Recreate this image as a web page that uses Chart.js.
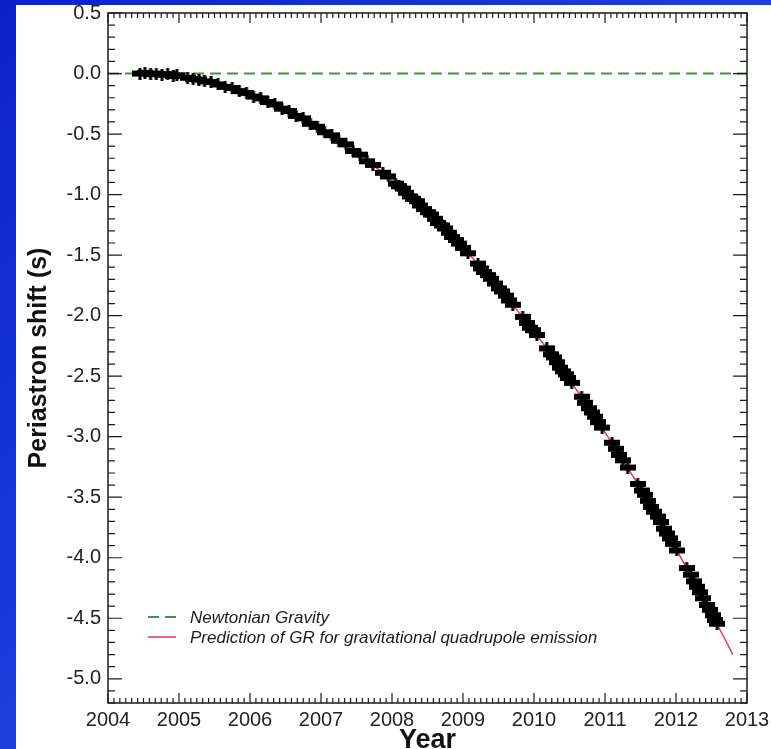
<!DOCTYPE html>
<html>
<head>
<meta charset="utf-8">
<script src="https://cdn.jsdelivr.net/npm/chart.js@4.4.1/dist/chart.umd.min.js"></script>
<style>
  html, body { margin: 0; padding: 0; }
  body {
    width: 771px; height: 749px; overflow: hidden; position: relative;
    background: linear-gradient(to bottom right, #0c22c9, #2b5cf2);
  }
  #panel { position: absolute; left: 16px; top: 5px; width: 755px; height: 744px; background: #fff; }
</style>
</head>
<body>
<div id="panel"><canvas id="grafico" width="755" height="744"></canvas></div>
<script>
// Medidas (año, desplazamiento del periastro en s)
const anios = [
  2004.45, 2004.52, 2004.60, 2004.68, 2004.76, 2004.84, 2004.92, 2004.97,
  2005.12, 2005.20, 2005.28, 2005.36, 2005.45, 2005.55, 2005.65, 2005.75, 2005.85, 2005.95,
  2006.05, 2006.15, 2006.25, 2006.35, 2006.45, 2006.55, 2006.65, 2006.75, 2006.85, 2006.95,
  2007.05, 2007.15, 2007.25, 2007.35, 2007.45, 2007.55, 2007.65, 2007.73, 2007.87, 2007.95,
  2008.05, 2008.10, 2008.15, 2008.20, 2008.25, 2008.30, 2008.35, 2008.40, 2008.45, 2008.50,
  2008.55, 2008.60, 2008.65, 2008.70, 2008.75, 2008.80, 2008.85, 2008.90, 2008.95, 2009.00,
  2009.07, 2009.21, 2009.26, 2009.30, 2009.35, 2009.40, 2009.45, 2009.50, 2009.55, 2009.60,
  2009.645, 2009.70, 2009.84, 2009.90, 2009.95, 2009.99, 2010.04,
  2010.18, 2010.235, 2010.28, 2010.325, 2010.37, 2010.41, 2010.45, 2010.485, 2010.53,
  2010.67, 2010.725, 2010.77, 2010.815, 2010.86, 2010.905, 2010.96,
  2011.10, 2011.155, 2011.20, 2011.25, 2011.32,
  2011.46, 2011.515, 2011.56, 2011.605, 2011.65, 2011.695, 2011.74, 2011.785, 2011.83,
  2011.875, 2011.92, 2011.96, 2012.01,
  2012.15, 2012.205, 2012.25, 2012.295, 2012.34, 2012.385, 2012.43, 2012.475, 2012.52,
  2012.55, 2012.58
];
const desplazamiento = [
  0.00, 0.005, -0.005, 0.00, -0.01, -0.005, -0.02, -0.015,
  -0.035, -0.045, -0.05, -0.065, -0.07, -0.09, -0.11, -0.12, -0.145, -0.16,
  -0.19, -0.205, -0.235, -0.255, -0.29, -0.31, -0.35, -0.37, -0.415, -0.44,
  -0.485, -0.51, -0.555, -0.585, -0.64, -0.67, -0.725, -0.755, -0.82, -0.85,
  -0.91, -0.93, -0.95, -0.985, -1.015, -1.035, -1.055, -1.09, -1.12, -1.145,
  -1.165, -1.20, -1.235, -1.255, -1.28, -1.315, -1.35, -1.375, -1.405, -1.44,
  -1.485, -1.57, -1.61, -1.64, -1.665, -1.695, -1.735, -1.775, -1.80, -1.835,
  -1.875, -1.91, -2.01, -2.06, -2.10, -2.12, -2.16,
  -2.27, -2.32, -2.345, -2.385, -2.43, -2.46, -2.485, -2.515, -2.555,
  -2.67, -2.72, -2.765, -2.80, -2.835, -2.88, -2.925,
  -3.05, -3.10, -3.15, -3.195, -3.255,
  -3.39, -3.445, -3.48, -3.53, -3.58, -3.62, -3.66, -3.705, -3.76,
  -3.80, -3.84, -3.885, -3.94,
  -4.085, -4.14, -4.195, -4.24, -4.285, -4.335, -4.39, -4.43, -4.475,
  -4.515, -4.545
];

// Predicción de la RG (línea roja)
const aniosRG = [
  2004.4, 2004.65, 2004.9, 2005.15, 2005.4, 2005.65, 2005.9, 2006.15, 2006.4, 2006.65,
  2006.9, 2007.15, 2007.4, 2007.65, 2007.9, 2008.15, 2008.4, 2008.65, 2008.9, 2009.15,
  2009.4, 2009.65, 2009.9, 2010.15, 2010.4, 2010.65, 2010.9, 2011.15, 2011.4, 2011.65,
  2011.9, 2012.15, 2012.4, 2012.65, 2012.8
];
const valoresRG = [
  0, -0.004, -0.017, -0.038, -0.068, -0.106, -0.153, -0.208, -0.272, -0.344,
  -0.425, -0.514, -0.612, -0.718, -0.833, -0.956, -1.088, -1.228, -1.377, -1.534,
  -1.700, -1.874, -2.057, -2.248, -2.448, -2.656, -2.873, -3.098, -3.332, -3.574,
  -3.825, -4.084, -4.352, -4.628, -4.798
];

// Gravedad newtoniana (línea verde)
const aniosNewton = [2004, 2013];
const valoresNewton = [0, 0];

// Marcas de los ejes
const ticksX = [2004, 2005, 2006, 2007, 2008, 2009, 2010, 2011, 2012, 2013];
const ticksY = [-5.0, -4.5, -4.0, -3.5, -3.0, -2.5, -2.0, -1.5, -1.0, -0.5, 0.0, 0.5];

const fuente = "'Liberation Sans', Arial, sans-serif";

// Marca de cada medida: barra horizontal con barra de error vertical
function crearMarca() {
  const c = document.createElement('canvas');
  c.width = 16;
  c.height = 12;
  const g = c.getContext('2d');
  g.fillStyle = '#000';
  g.fillRect(0, 3, 16, 6);
  g.fillRect(6.5, 0, 3, 12);
  return c;
}

// Marco, marcas hacia dentro y leyenda
const marcoYLeyenda = {
  id: 'marcoYLeyenda',
  afterDatasetsDraw(chart) {
    const { ctx, chartArea: a, scales: { x, y } } = chart;
    ctx.save();
    ctx.strokeStyle = '#1a1a1a';
    ctx.lineWidth = 1.5;
    ctx.strokeRect(a.left, a.top, a.right - a.left, a.bottom - a.top);

    ctx.lineWidth = 1.2;
    ctx.beginPath();
    for (let i = 0; i <= 108; i++) {
      const px = x.getPixelForValue(2004 + i / 12);
      const largo = i % 12 === 0 ? 10 : 5;
      ctx.moveTo(px, a.bottom); ctx.lineTo(px, a.bottom - largo);
      ctx.moveTo(px, a.top); ctx.lineTo(px, a.top + largo);
    }
    for (let i = -52; i <= 5; i++) {
      const py = y.getPixelForValue(i / 10);
      const largo = i % 5 === 0 ? 14 : 7;
      ctx.moveTo(a.left, py); ctx.lineTo(a.left + largo, py);
      ctx.moveTo(a.right, py); ctx.lineTo(a.right - largo, py);
    }
    ctx.stroke();

    // leyenda
    const filas = [chart.data.datasets[2], chart.data.datasets[1]];
    ctx.font = 'italic 17px ' + fuente;
    ctx.textBaseline = 'middle';
    ctx.fillStyle = '#1a1a1a';
    filas.forEach((ds, i) => {
      const yy = a.bottom - 86 + i * 20;
      ctx.beginPath();
      ctx.strokeStyle = ds.borderColor;
      ctx.lineWidth = ds.borderWidth;
      ctx.setLineDash(ds.borderDash || []);
      ctx.moveTo(a.left + 40, yy);
      ctx.lineTo(a.left + 68, yy);
      ctx.stroke();
      ctx.setLineDash([]);
      ctx.fillText(ds.label, a.left + 82, yy + 1);
    });
    ctx.restore();
  }
};

function generarGrafico() {
  const ctx = document.getElementById('grafico').getContext('2d');

  new Chart(ctx, {
    type: 'scatter',
    data: {
      datasets: [
        {
          label: 'Data',
          data: anios.map((t, i) => ({ x: t, y: desplazamiento[i] })),
          pointStyle: crearMarca(),
          pointRadius: 7,
          pointBorderColor: '#000',
          pointBackgroundColor: '#000'
        },
        {
          label: 'Prediction of GR for gravitational quadrupole emission',
          data: aniosRG.map((t, i) => ({ x: t, y: valoresRG[i] })),
          showLine: true,
          borderColor: '#e33b45',
          borderWidth: 1.5,
          pointRadius: 0
        },
        {
          label: 'Newtonian Gravity',
          data: aniosNewton.map((t, i) => ({ x: t, y: valoresNewton[i] })),
          showLine: true,
          borderColor: '#3b993b',
          borderWidth: 2,
          borderDash: [11, 6],
          pointRadius: 0
        }
      ]
    },
    options: {
      responsive: false,
      animation: false,
      events: [],
      layout: { padding: { top: 5, right: 24, left: 0, bottom: 0 } },
      plugins: { legend: { display: false }, tooltip: { enabled: false } },
      scales: {
        x: {
          type: 'linear',
          min: 2004,
          max: 2013,
          grid: { display: false, drawTicks: false },
          border: { display: false },
          afterBuildTicks: s => { s.ticks = ticksX.map(v => ({ value: v })); },
          afterFit: s => { s.height = 46; s.paddingLeft = 0; s.paddingRight = 0; },
          ticks: {
            padding: 5,
            maxRotation: 0,
            autoSkip: false,
            color: '#222',
            font: { family: fuente, size: 20 },
            callback: v => String(v)
          },
          title: {
            display: true,
            text: 'Year',
            color: '#111',
            font: { family: fuente, size: 27, weight: 'bold', lineHeight: 1.2 },
            padding: { top: 0, bottom: -8 }
          }
        },
        y: {
          min: -5.2,
          max: 0.5,
          grid: { display: false, drawTicks: false },
          border: { display: false },
          afterBuildTicks: s => { s.ticks = ticksY.map(v => ({ value: v })); },
          afterFit: s => { s.width = 92; s.paddingTop = 0; s.paddingBottom = 0; },
          ticks: {
            padding: 7,
            autoSkip: false,
            color: '#222',
            font: { family: fuente, size: 20 },
            callback: v => v.toFixed(1)
          },
          title: {
            display: true,
            text: 'Periastron shift (s)',
            color: '#111',
            font: { family: fuente, size: 25, weight: 'bold', lineHeight: 1.2 },
            padding: { top: 8, bottom: 0 }
          }
        }
      }
    },
    plugins: [marcoYLeyenda]
  });
}

window.onload = generarGrafico;
</script>
</body>
</html>
